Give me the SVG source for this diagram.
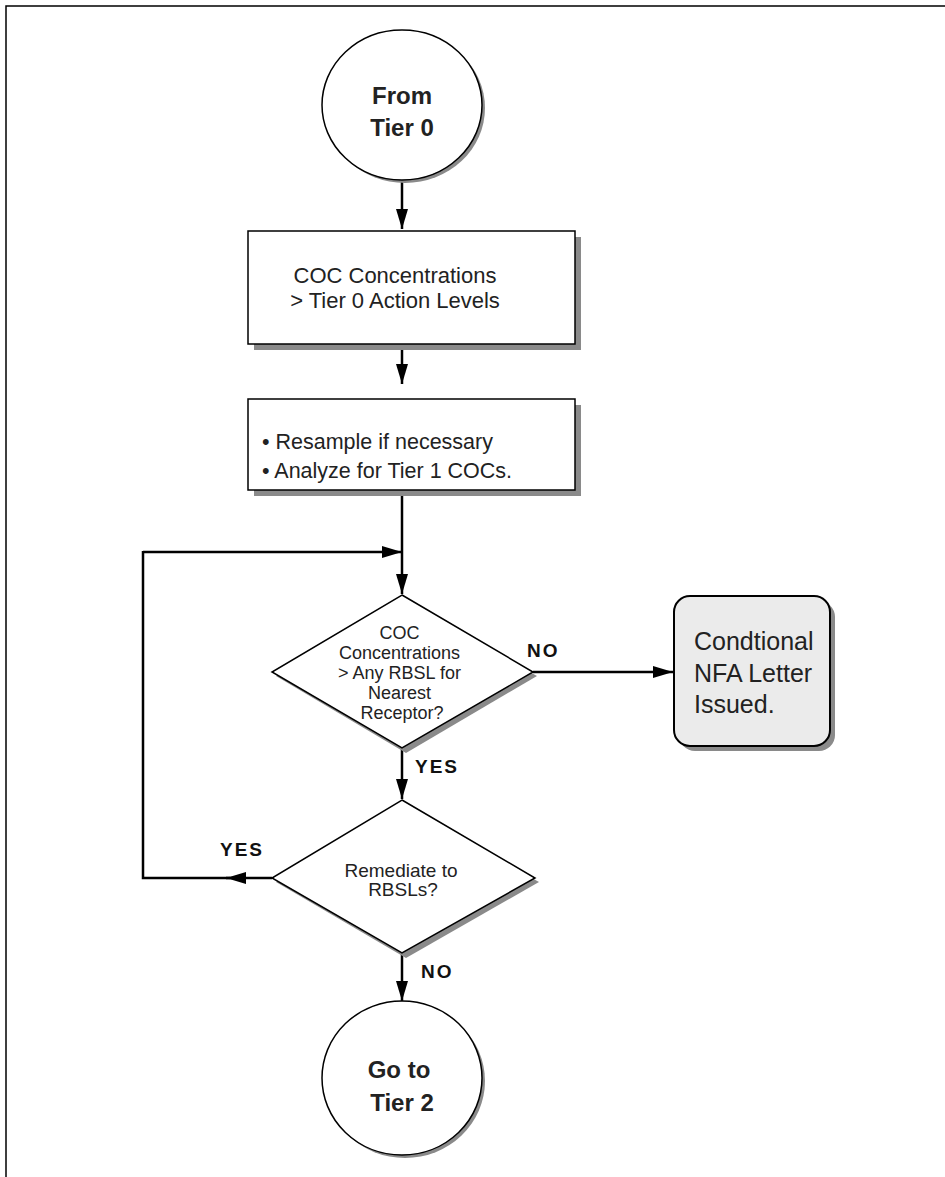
<svg xmlns="http://www.w3.org/2000/svg" width="945" height="1177" viewBox="0 0 945 1177">
<style>
.shape{fill:#fff;stroke:#000;stroke-width:1.5}
.shadow{fill:#8a8a8a;stroke:none}
.conn{fill:none;stroke:#000;stroke-width:2.5}
.t{font-family:"Liberation Sans",Arial,sans-serif;fill:#222}
.b{font-weight:bold}
.lbl{font-family:"Liberation Sans",Arial,sans-serif;font-weight:bold;font-size:19px;fill:#111;letter-spacing:2px}
</style>
<defs>
<marker id="ahL" markerWidth="20" markerHeight="12" refX="20" refY="6" orient="auto" markerUnits="userSpaceOnUse" viewBox="0 0 20 12">
<path d="M0,0 L20,6 L0,12 Z" fill="#000"/>
</marker>
</defs>
<rect x="0" y="0" width="945" height="1177" fill="#fff"/>
<path d="M6,1177 V6 H945" fill="none" stroke="#000" stroke-width="1.5"/>

<g id="connectors">
<line class="conn" x1="402" y1="181" x2="402" y2="229" marker-end="url(#ahL)"/>
<line class="conn" x1="402" y1="345" x2="402" y2="384" marker-end="url(#ahL)"/>
<line class="conn" x1="402" y1="491" x2="402" y2="594" marker-end="url(#ahL)"/>
<line class="conn" x1="143" y1="552" x2="402" y2="552" marker-end="url(#ahL)"/>
<line class="conn" x1="533" y1="672" x2="673" y2="672" marker-end="url(#ahL)"/>
<line class="conn" x1="402" y1="749" x2="402" y2="799" marker-end="url(#ahL)"/>
<line class="conn" x1="272" y1="878" x2="226" y2="878" marker-end="url(#ahL)"/>
<path class="conn" d="M230,878 H143 V551"/>
<line class="conn" x1="402" y1="954" x2="402" y2="1001" marker-end="url(#ahL)"/>
<text class="lbl" x="527" y="657">NO</text>
<text class="lbl" x="415" y="773">YES</text>
<text class="lbl" x="220" y="856">YES</text>
<text class="lbl" x="421" y="978">NO</text>
</g>

<g id="start">
<ellipse class="shadow" cx="405" cy="108" rx="80" ry="75"/>
<ellipse class="shape" cx="402" cy="105" rx="80" ry="75"/>
<text class="t b" x="402" y="104" font-size="24" text-anchor="middle">From</text>
<text class="t b" x="402" y="136" font-size="24" text-anchor="middle">Tier 0</text>
</g>

<g id="box1">
<rect class="shadow" x="254" y="237" width="327" height="113"/>
<rect class="shape" x="248" y="231" width="327" height="113"/>
<text class="t" x="395" y="283" font-size="22" text-anchor="middle">COC Concentrations</text>
<text class="t" x="395" y="308" font-size="22" text-anchor="middle">&gt; Tier 0 Action Levels</text>
</g>

<g id="box2">
<rect class="shadow" x="254" y="405" width="327" height="91"/>
<rect class="shape" x="248" y="399" width="327" height="91"/>
<text class="t" x="262" y="449" font-size="21.5">• Resample if necessary</text>
<text class="t" x="262" y="478" font-size="21.5">• Analyze for Tier 1 COCs.</text>
</g>

<g id="decision1">
<polygon class="shadow" points="402,600 537,676 406,753 276,676"/>
<polygon class="shape" points="402,595 533,672 402,748 272,672"/>
<text class="t" font-size="18" text-anchor="middle">
<tspan x="402" y="639">COC</tspan>
<tspan x="402" y="659">Concentrations</tspan>
<tspan x="402" y="679">&gt; Any RBSL for</tspan>
<tspan x="402" y="699">Nearest</tspan>
<tspan x="402" y="719">Receptor?</tspan>
</text>
</g>

<g id="nfa">
<rect class="shadow" x="679" y="601" width="156" height="150" rx="16"/>
<rect x="674" y="596" width="156" height="150" rx="16" fill="#ebebeb" stroke="#000" stroke-width="2"/>
<text class="t" x="694" y="650" font-size="25">Condtional</text>
<text class="t" x="694" y="682" font-size="25">NFA Letter</text>
<text class="t" x="694" y="713" font-size="25">Issued.</text>
</g>

<g id="decision2">
<polygon class="shadow" points="402,805 539,882 406,958 276,882"/>
<polygon class="shape" points="402,800 535,878 402,953 272,878"/>
<text class="t" x="401" y="877" font-size="19" text-anchor="middle">Remediate to</text>
<text class="t" x="403" y="896" font-size="19" text-anchor="middle">RBSLs?</text>
</g>

<g id="end">
<ellipse class="shadow" cx="405" cy="1081" rx="80" ry="77"/>
<ellipse class="shape" cx="402" cy="1078" rx="80" ry="77"/>
<text class="t b" x="399" y="1078" font-size="24" text-anchor="middle">Go to</text>
<text class="t b" x="402" y="1111" font-size="24" text-anchor="middle">Tier 2</text>
</g>
</svg>
